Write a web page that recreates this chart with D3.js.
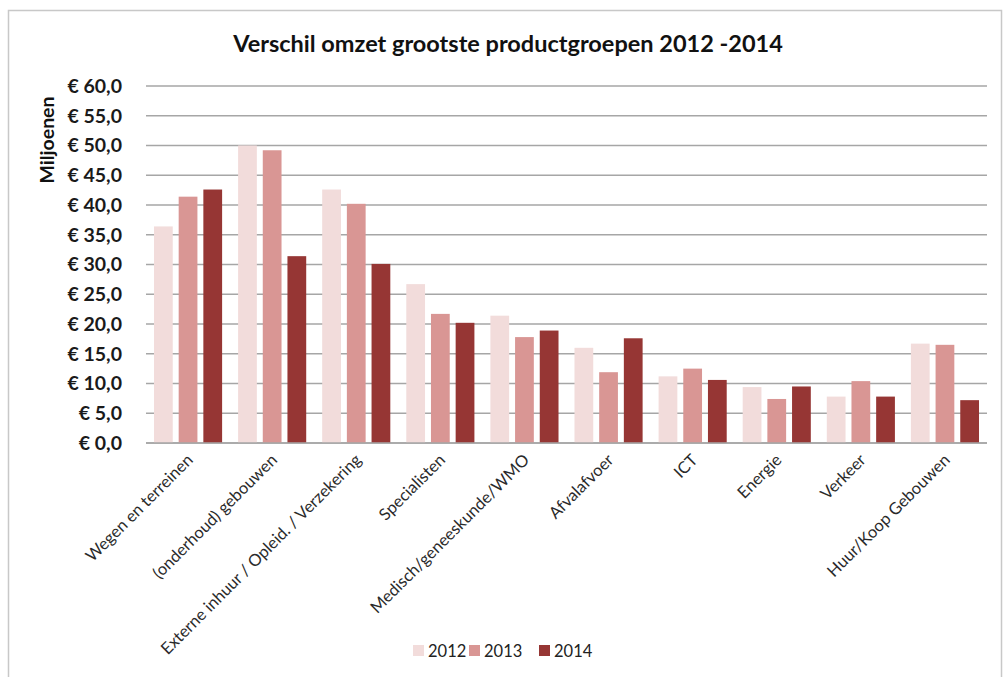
<!DOCTYPE html>
<html>
<head>
<meta charset="utf-8">
<script src="https://cdn.jsdelivr.net/npm/d3@7"></script>
<style>
  body { margin: 0; background: #fff; }
  text { font-family: Lato, "Open Sans", sans-serif; }
</style>
</head>
<body>
<script>
var W = 1005, H = 677;
var margin = { top: 86, right: 18, bottom: 234, left: 146 };
var w = 987 - margin.left;
var h = 443 - margin.top;

// data
var categories = ["Wegen en terreinen", "(onderhoud) gebouwen", "Externe inhuur / Opleid. / Verzekering",
    "Specialisten", "Medisch/geneeskunde/WMO", "Afvalafvoer", "ICT", "Energie", "Verkeer", "Huur/Koop Gebouwen"];
var years = ["2012", "2013", "2014"];
var values2012 = [36.4, 50.0, 42.6, 26.7, 21.4, 16.0, 11.2, 9.4, 7.8, 16.7];
var values2013 = [41.4, 49.2, 40.2, 21.7, 17.8, 11.9, 12.5, 7.4, 10.4, 16.5];
var values2014 = [42.6, 31.4, 30.1, 20.2, 18.9, 17.6, 10.6, 9.5, 7.8, 7.2];
var yTicks = [0, 5, 10, 15, 20, 25, 30, 35, 40, 45, 50, 55, 60];
var colors = ["#f2dcdb", "#d99694", "#963634"];

var series = [values2012, values2013, values2014];

var svg = d3.select("body")
    .append("svg")
    .attr("width", W)
    .attr("height", H);

// chart border
svg.append("rect")
    .attr("x", 8.5).attr("y", 10.5)
    .attr("width", 993).attr("height", 680)
    .attr("fill", "none")
    .attr("stroke", "#c8c8c8")
    .attr("stroke-width", 1.5);

svg.append("text")
    .attr("x", 508).attr("y", 52)
    .attr("text-anchor", "middle")
    .attr("font-size", 23.5)
    .attr("font-weight", "bold")
    .attr("fill", "#111")
    .text("Verschil omzet grootste productgroepen 2012 -2014");

var g = svg.append("g")
    .attr("transform", "translate(" + margin.left + "," + margin.top + ")");

var x0 = d3.scaleBand()
    .domain(categories)
    .range([0, w])
    .paddingInner(0.19)
    .paddingOuter(0.095);

var x1 = d3.scaleBand()
    .domain(years)
    .range([0, x0.bandwidth()])
    .paddingInner(0.24);

var y = d3.scaleLinear()
    .domain([0, 60])
    .range([h, 0]);

// gridlines
g.selectAll(".grid")
    .data(yTicks)
    .enter()
    .append("line")
    .attr("x1", 0).attr("x2", w)
    .attr("y1", function (d) { return y(d); })
    .attr("y2", function (d) { return y(d); })
    .attr("stroke", "#a6a6a6")
    .attr("stroke-width", 1.6);

// y axis labels
var yAxis = d3.axisLeft(y)
    .tickValues(yTicks)
    .tickSize(0)
    .tickPadding(24)
    .tickFormat(function (d) { return "€ " + d3.format(".1f")(d).replace(".", ","); });

var yAxisGroup = g.append("g").call(yAxis);
yAxisGroup.select(".domain").remove();
yAxisGroup.selectAll("text")
    .attr("font-size", 19.5)
    .attr("font-weight", "bold")
    .attr("fill", "#1a1a1a");

// bars
var groups = g.selectAll(".group")
    .data(categories)
    .enter()
    .append("g")
    .attr("transform", function (d) { return "translate(" + x0(d) + ",0)"; });

groups.selectAll("rect")
    .data(function (d, i) {
        return years.map(function (yr, j) { return { year: yr, value: series[j][i], idx: j }; });
    })
    .enter()
    .append("rect")
    .attr("x", function (d) { return x1(d.year); })
    .attr("y", function (d) { return y(d.value); })
    .attr("width", x1.bandwidth())
    .attr("height", function (d) { return h - y(d.value); })
    .attr("fill", function (d) { return colors[d.idx]; });

// baseline
g.append("line")
    .attr("x1", 0).attr("x2", w)
    .attr("y1", h).attr("y2", h)
    .attr("stroke", "#a6a6a6")
    .attr("stroke-width", 1.6);

// x labels, rotated
var xAxis = d3.axisBottom(x0).tickSize(0).tickPadding(0);
var xAxisGroup = g.append("g")
    .attr("transform", "translate(0," + h + ")")
    .call(xAxis);
xAxisGroup.select(".domain").remove();
xAxisGroup.selectAll("text")
    .attr("font-size", 16.5)
    .attr("fill", "#2a2a2a")
    .attr("text-anchor", "end")
    .attr("dy", null)
    .attr("y", 0)
    .attr("transform", "translate(6,18) rotate(-45)");

// y axis title
svg.append("text")
    .attr("transform", "translate(54,140) rotate(-90)")
    .attr("text-anchor", "middle")
    .attr("font-size", 19.5)
    .attr("font-weight", "bold")
    .attr("fill", "#111")
    .text("Miljoenen");

// legend
var legendX = [413, 469, 539];
var legend = svg.selectAll(".legend")
    .data(years)
    .enter()
    .append("g")
    .attr("transform", function (d, i) { return "translate(" + legendX[i] + ",645)"; });

legend.append("rect")
    .attr("width", 11).attr("height", 11)
    .attr("fill", function (d, i) { return colors[i]; });

legend.append("text")
    .attr("x", 15).attr("y", 12)
    .attr("font-size", 16.5)
    .attr("fill", "#222")
    .text(function (d) { return d; });
</script>
</body>
</html>
